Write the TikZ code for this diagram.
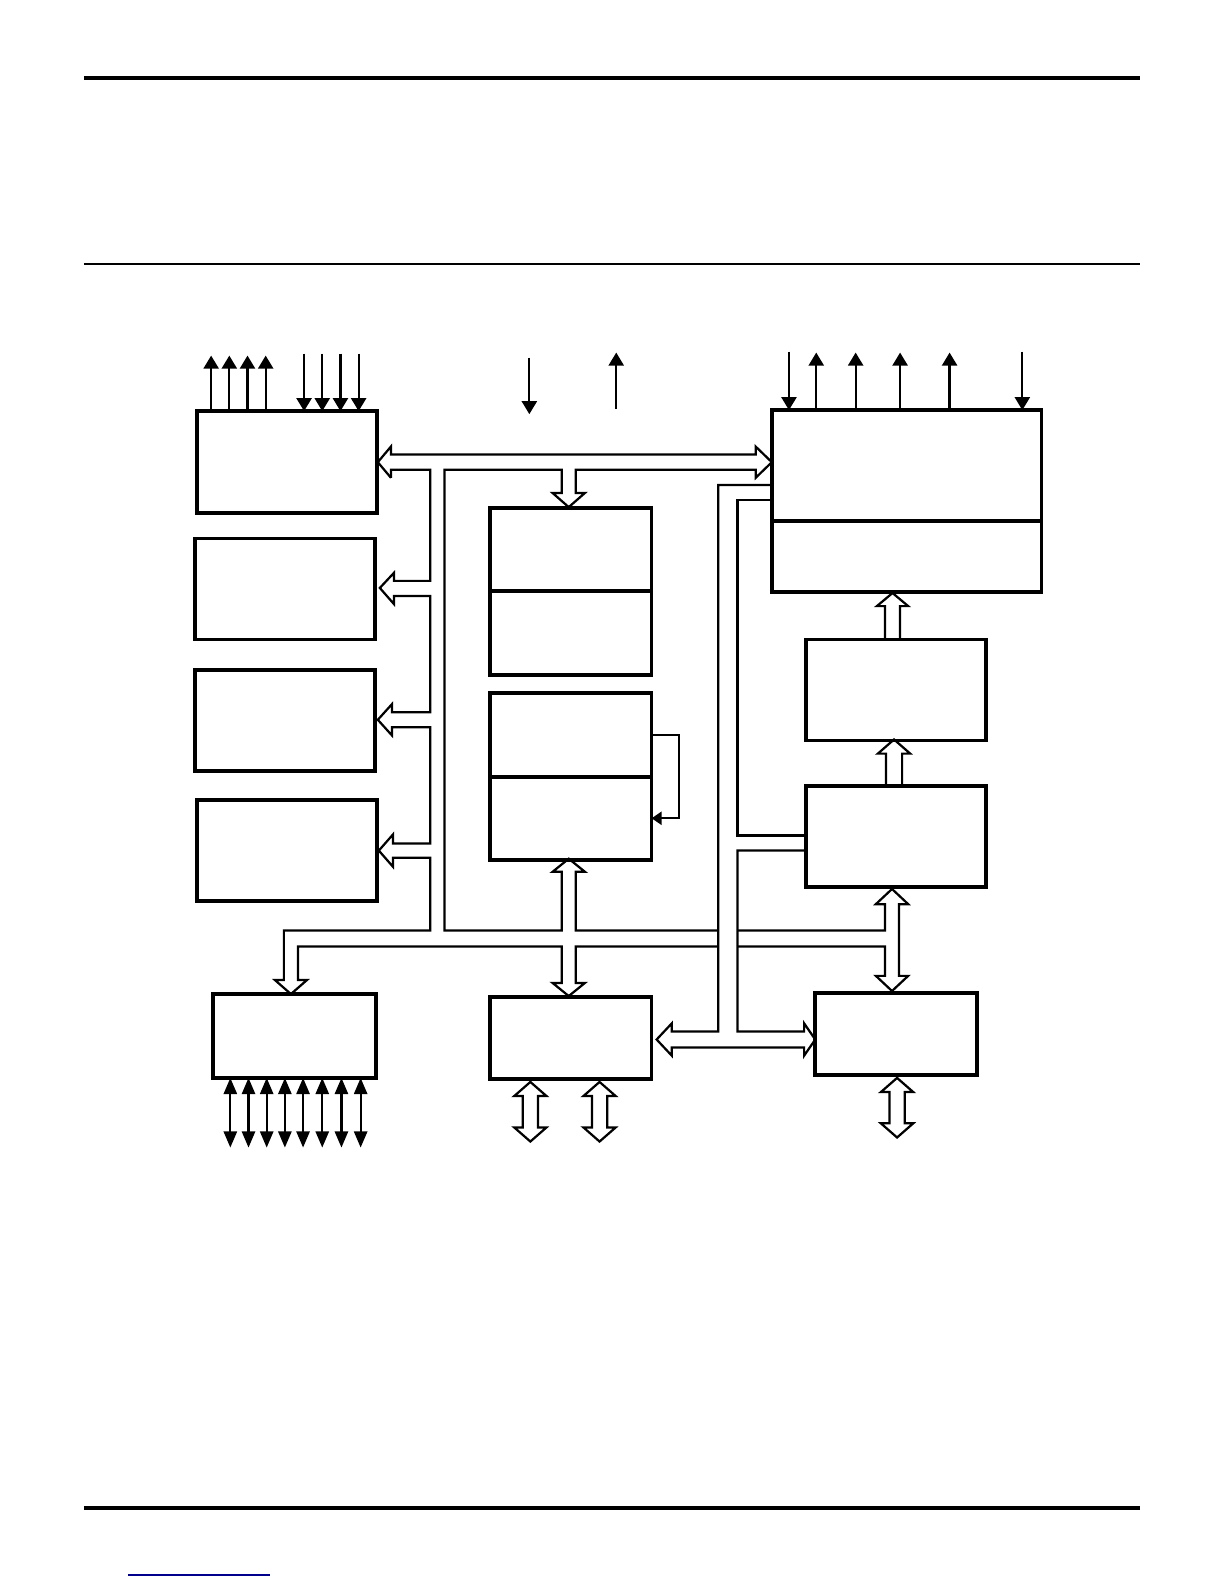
\documentclass[tikz,border=0pt]{standalone}
\usepackage{tikz}
\usetikzlibrary{arrows.meta}

\begin{document}
\begin{tikzpicture}[x=1pt, y=-1pt,
    blk/.style={draw, line width=3.6pt, inner sep=0pt, outer sep=0pt},
    sig/.style={line width=2.2pt},
    bus/.style={line width=2.2pt, line join=miter},
    tip/.style={-{Triangle[length=13pt, width=15pt]}},
    dtip/.style={{Triangle[length=16pt, width=13pt]}-{Triangle[length=16pt, width=13pt]}}]
  \useasboundingbox (0,0) rectangle (1212,1568);

  % page rules
  \draw[line width=4pt] (83,77) -- (1128,77);
  \draw[line width=2pt] (83,261) -- (1128,261);
  \draw[line width=4pt] (83,1493) -- (1128,1493);
  \draw[line width=1.2pt, blue!55!black] (127,1559) -- (267,1559);

  % blocks
  \node[blk, minimum width=178pt, minimum height=101pt] (io1) at (284,457.5) {};
  \node[blk, minimum width=178pt, minimum height=100pt] (io2) at (282,583) {};
  \node[blk, minimum width=178pt, minimum height=100pt] (io3) at (282,713) {};
  \node[blk, minimum width=178pt, minimum height=100pt] (io4) at (284,842) {};
  \node[blk, minimum width=161pt, minimum height=83pt] (io5) at (291.5,1025.5) {};
  \node[blk, minimum width=160pt, minimum height=82pt] (c1) at (565,544) {};
  \node[blk, minimum width=160pt, minimum height=83pt] (c2) at (565,626.5) {};
  \node[blk, minimum width=160pt, minimum height=83pt] (c3) at (565,727.5) {};
  \node[blk, minimum width=160pt, minimum height=82pt] (c4) at (565,810) {};
  \node[blk, minimum width=160pt, minimum height=81pt] (c5) at (565,1027.5) {};
  \node[blk, minimum width=267pt, minimum height=110pt] (r1a) at (897.5,461) {};
  \node[blk, minimum width=267pt, minimum height=70pt] (r1b) at (897.5,551) {};
  \node[blk, minimum width=178pt, minimum height=100pt] (r2) at (887,683) {};
  \node[blk, minimum width=178pt, minimum height=100pt] (r3) at (887,828) {};
  \node[blk, minimum width=160pt, minimum height=81pt] (r4) at (887,1023.5) {};

  % signal lines
  \foreach \x in {209,227,245,263}
    \draw[sig, tip] (\x,0 |- io1.north) -- (\x,352);
  \foreach \x in {301,319,337,355}
    \draw[sig, tip] (\x,350) -- (\x,0 |- io1.north);
  \foreach \x in {808,847,891,940}
    \draw[sig, tip] (\x,0 |- r1a.north) -- (\x,349);
  \foreach \x in {781,1012}
    \draw[sig, tip] (\x,348) -- (\x,0 |- r1a.north);
  \foreach \x in {228,246,264,282,300,319,338,357}
    \draw[sig, dtip] (\x,0 |- io5.south) -- (\x,1136);
  \coordinate (sin) at (524,354);
  \coordinate (sout) at (610,405);
  \draw[sig, tip] (sin) -- ++(0,56);
  \draw[sig, tip] (sout) -- ++(0,-56);
  \draw[sig, -{Triangle[length=10pt, width=13pt]}] (c3.east) -- ++(27,0) |- (c4.east);

  % internal bus
  \draw[bus] (387,473) -- (374,457.5) -- (387,442) -- (387,450) -- (748,450) -- (748,442)
    -- (r1a.west |- 0,457.5) -- (748,473) -- (748,465) -- (570,465) -- (570,488) -- (579,488)
    -- (563,502) -- (547,488) -- (556,488) -- (556,465) -- (440,465) -- (440,921)
    -- (556,921) -- (556,863) -- (547,863) -- (563,850) -- (579,863) -- (570,863)
    -- (570,921) -- (711,921);
  \draw[bus] (387,473) -- (387,465) -- (426,465) -- (426,575) -- (390,575) -- (390,567)
    -- (376,582) -- (390,598) -- (390,590) -- (426,590) -- (426,705) -- (388,705)
    -- (388,697) -- (374,712.5) -- (388,728) -- (388,720) -- (426,720) -- (426,835)
    -- (389,835) -- (389,826) -- (375,842) -- (389,858) -- (389,849) -- (426,849)
    -- (426,921) -- (281,921) -- (281,970) -- (272,970) -- (288,984) -- (304,970)
    -- (295,970) -- (295,937) -- (556,937) -- (556,973) -- (547,973) -- (563,986)
    -- (579,973) -- (570,973) -- (570,937) -- (711,937);
  \draw[bus] (730,921) -- (876,921) -- (876,895) -- (867,895) -- (883,880) -- (899,895)
    -- (890,895) -- (890,966) -- (899,966) -- (883,981) -- (867,966) -- (876,966)
    -- (876,937) -- (730,937);
  \draw[bus] (r1a.west |- 0,480) -- (711,480) -- (711,1021) -- (665,1021) -- (665,1013)
    -- (650,1029) -- (665,1045) -- (665,1037) -- (796,1037) -- (796,1045)
    -- (r4.west |- 0,1029) -- (796,1013) -- (796,1021) -- (730,1021) -- (730,842)
    -- (r3.west |- 0,842);
  \draw[bus] (r1a.west |- 0,495) -- (730,495) -- (730,827) -- (r3.west |- 0,827);
  \draw[bus] (876,0 |- r2.north) -- (876,600) -- (868,600) -- (883.5,587) -- (899,600)
    -- (891,600) -- (891,0 |- r2.north);
  \draw[bus] (877,0 |- r3.north) -- (877,746) -- (869,746) -- (885,732) -- (901,746)
    -- (893,746) -- (893,0 |- r3.north);

  % external ports
  \foreach \n/\x in {c5/525, c5/593.5, r4/888}
    \draw[bus, shift={(\x,0 |- \n.south)}] (-7.5,17) -- (-16,17) -- (0,3) -- (16,17)
      -- (7.5,17) -- (7.5,48) -- (16,48) -- (0,62) -- (-16,48) -- (-7.5,48) -- cycle;
\end{tikzpicture}
\end{document}
